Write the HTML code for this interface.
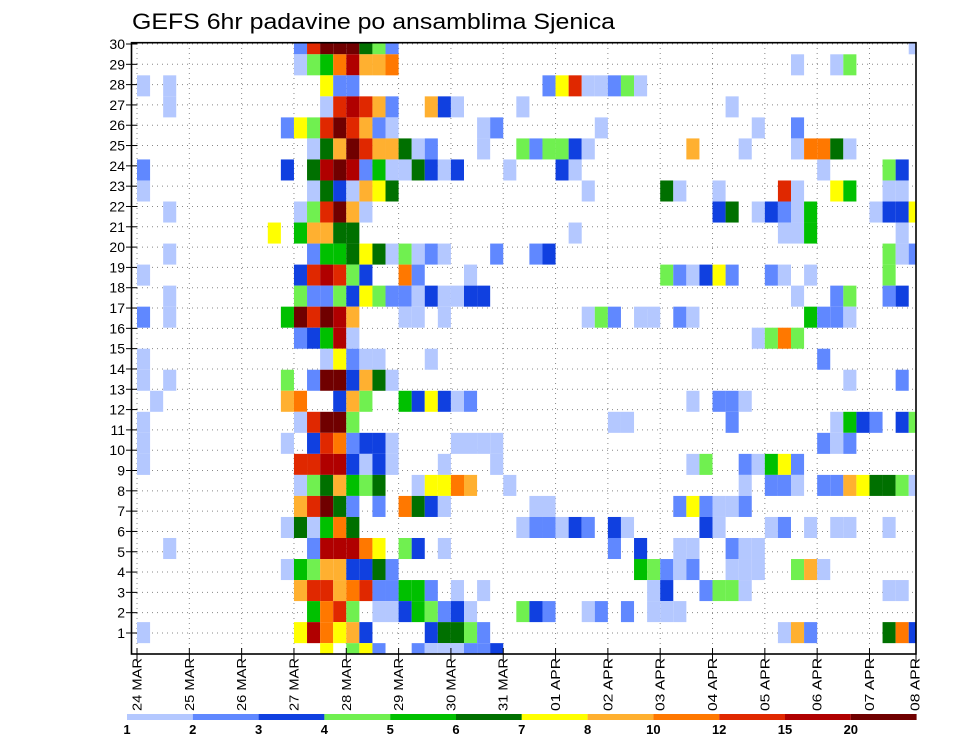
<!DOCTYPE html>
<html><head><meta charset="utf-8"><style>html,body{margin:0;padding:0;background:#fff}svg{display:block}text{font-family:"Liberation Sans",sans-serif;fill:#000}</style></head>
<body>
<svg id="chart" width="960" height="742" viewBox="0 0 960 742" xmlns="http://www.w3.org/2000/svg">
<text x="132" y="29" font-size="22" textLength="483" lengthAdjust="spacingAndGlyphs">GEFS 6hr padavine po ansamblima Sjenica</text>
<defs><clipPath id="pc"><rect x="131.5" y="42.7" width="784.5" height="611.3"/></clipPath></defs>
<g id="grid"></g>
<g id="cells" clip-path="url(#pc)"></g>
<rect x="131.5" y="42.7" width="784.5" height="611.3" fill="none" stroke="#000" stroke-width="1.6"/>
<g id="axes"></g>
<g id="legend"></g>
</svg>
<script>
// data
const levelCodes = "abcdefghijkl";
const levelLabels = ["1","2","3","4","5","6","7","8","10","12","15","20"];
const levelColors = ["#b4c8ff","#6088ff","#1040e0","#70f050","#00c000","#007000","#ffff00","#ffb030","#ff7800","#e02800","#b00000","#700000"];
const dayLabels = ["24 MAR","25 MAR","26 MAR","27 MAR","28 MAR","29 MAR","30 MAR","31 MAR","01 APR","02 APR","03 APR","04 APR","05 APR","06 APR","07 APR","08 APR"];
const memberLabels = [30,29,28,27,26,25,24,23,22,21,20,19,18,17,16,15,14,13,12,11,10,9,8,7,6,5,4,3,2,1];
// each row (top to bottom): "step+level" entries, step = 6h index from 24 MAR 00z
const rows = [
"12b 13j 14l 15l 16l 17f 18d 19b 59a",
"12a 13d 14e 15i 16k 17h 18h 19i 50a 53a 54d",
"0a 2a 14g 15b 16b 31b 32g 33j 34a 35a 36b 37d 38a",
"2a 14a 15j 16k 17j 18h 19b 22h 23c 24a 29a 45a",
"11b 12g 13d 14j 15l 16j 17h 18b 19a 26a 27b 35a 47a 50b",
"13a 14f 15h 16l 17j 18h 19h 20f 21a 22b 26a 29d 30b 31d 32d 33c 34a 42h 46a 50a 51i 52i 53f 54a",
"0b 11c 13f 14k 15l 16k 17b 18e 19a 20a 21f 22c 23a 24c 28a 32c 33a 52a 57d 58c",
"0a 13a 14f 15c 16a 17h 18g 19f 34a 40f 41a 44a 49j 50a 53g 54e 57a 58a",
"2a 12a 13d 14j 15l 16h 17a 44c 45f 47a 48c 49b 50a 51e 56a 57c 58c 59g",
"10g 12e 13h 14h 15f 16f 33a 49a 50a 51e 58a",
"2a 13b 14e 15e 16f 17g 18f 19a 20d 21a 22b 23a 27b 30b 31c 57d 58a 59b",
"0a 12c 13j 14k 15j 16d 17c 20i 21b 25a 40d 41b 42a 43c 44g 45b 48b 49a 51a 57d",
"2a 12d 13b 14b 15d 16c 17g 18d 19b 20b 21a 22c 23a 24a 25c 26c 50a 53b 54d 57b 58c",
"0b 2a 11e 12l 13j 14l 15k 16h 20a 21a 23a 34a 35d 36b 38a 39a 41b 42a 51e 52b 53b 54a",
"12b 13c 14e 15k 16a 47a 48d 49i 50d",
"0a 14a 15g 16b 17a 18a 22a 52b",
"0a 2a 11d 13b 14l 15l 16c 17h 18f 19a 54a 58b",
"1a 11h 12i 15c 16h 17d 20e 21c 22g 23c 24a 25b 42a 44b 45b 46a",
"0a 12a 13j 14l 15l 16d 36a 37a 45b 53a 54e 55c 56b 58c 59d",
"0a 11a 13c 14j 15i 16b 17c 18c 19a 24a 25a 26a 27a 52b 53a 54b",
"0a 12j 13j 14k 15k 16c 17a 18c 19a 23a 27a 42a 43d 46b 47a 48e 49g 50b",
"12a 13d 14f 15h 16e 17d 18f 21a 22g 23g 24i 25h 28a 46a 48b 49b 50a 52b 53b 54h 55g 56f 57f 58d 59a",
"12h 13j 14l 15f 16b 18b 20i 21f 22c 23a 30a 31a 41b 42g 43b 44a 45a 46b",
"11a 12f 13a 14e 15i 16f 29a 30b 31b 32a 33c 34b 36c 37a 43c 44a 48a 49b 51a 53a 54a 57a",
"2a 13b 14k 15k 16k 17i 18g 20d 21c 23a 36b 38c 41a 42a 45b 46a 47a",
"11a 12e 13d 14h 15h 16c 17c 18f 19b 38e 39d 40b 41a 42b 45a 46a 47a 50d 51h 52a",
"12h 13j 14j 15h 16i 17j 18b 19b 20e 21e 22b 24a 26a 39a 40c 43b 44d 45d 46a 57a 58a",
"13e 14i 15j 16d 18a 19a 20c 21e 22d 23b 24c 25a 29d 30c 31b 34a 35b 37b 39a 40a 41a",
"0a 12g 13k 14i 15g 16h 17c 22c 23f 24f 25d 26b 49a 50h 51b 57f 58i 59c",
"14g 16d 17g 18b 21b 22a 23a 24a 25b 26b 27c"
];
const NS="http://www.w3.org/2000/svg";
function mk(tag,attrs,parent){const e=document.createElementNS(NS,tag);for(const k in attrs)e.setAttribute(k,attrs[k]);parent.appendChild(e);return e;}
// axis functions
const X0=137, STEP=13.08, DAY=STEP*4, R0=33.27, RH=21.03;
function xStep(s){return X0+s*STEP;}
function yRow(i){return R0+i*RH;}
function yLabel(n){return 44+20.31*(30-n);}
const cellsG=document.getElementById('cells');
rows.forEach((r,i)=>{
  r.split(' ').forEach(tok=>{
    const s=parseInt(tok,10), lv=levelCodes.indexOf(tok.slice(-1));
    const c=mk('rect',{x:xStep(s).toFixed(2),y:yRow(i).toFixed(2),width:STEP.toFixed(2),height:RH.toFixed(2),fill:levelColors[lv]},cellsG);
    
    
  });
});
const gridG=document.getElementById('grid'), axG=document.getElementById('axes');
dayLabels.forEach((d,j)=>{
  let x=X0+j*DAY; if(x>916) x=916;
  if(x<916){const gl=mk('line',{x1:x,y1:43,x2:x,y2:654,stroke:'#888','stroke-width':1,'stroke-dasharray':'1 4'},gridG);
  }
  const t=mk('line',{x1:x,y1:648,x2:x,y2:661,stroke:'#000','stroke-width':1},axG);
  
  const lx=(j===15)?915:x;
  const tx=mk('text',{x:lx,y:711,'font-size':13,'dominant-baseline':'central',transform:'rotate(-90 '+lx+' 711)',textLength:53,lengthAdjust:'spacingAndGlyphs'},axG);
  tx.textContent=d;
  
});
memberLabels.forEach(n=>{
  const y=yLabel(n);
  const gl=mk('line',{x1:132,y1:y,x2:916,y2:y,stroke:'#888','stroke-width':1,'stroke-dasharray':'1 4'},gridG);
  
  const t=mk('line',{x1:126,y1:y,x2:137,y2:y,stroke:'#000','stroke-width':1},axG);
  
  const tx=mk('text',{x:125,y:y+5,'font-size':14,'text-anchor':'end'},axG);
  tx.textContent=n;
  
});
const lg=document.getElementById('legend'), LW=65.8;
levelColors.forEach((c,j)=>{
  const r=mk('rect',{x:(127+j*LW).toFixed(2),y:714,width:LW.toFixed(2),height:6,fill:c},lg);
  
  const t=mk('text',{x:(127+j*LW).toFixed(2),y:734,'font-size':13,'font-weight':'bold','text-anchor':'middle'},lg);
  t.textContent=levelLabels[j];
  
});
</script>
</body></html>
